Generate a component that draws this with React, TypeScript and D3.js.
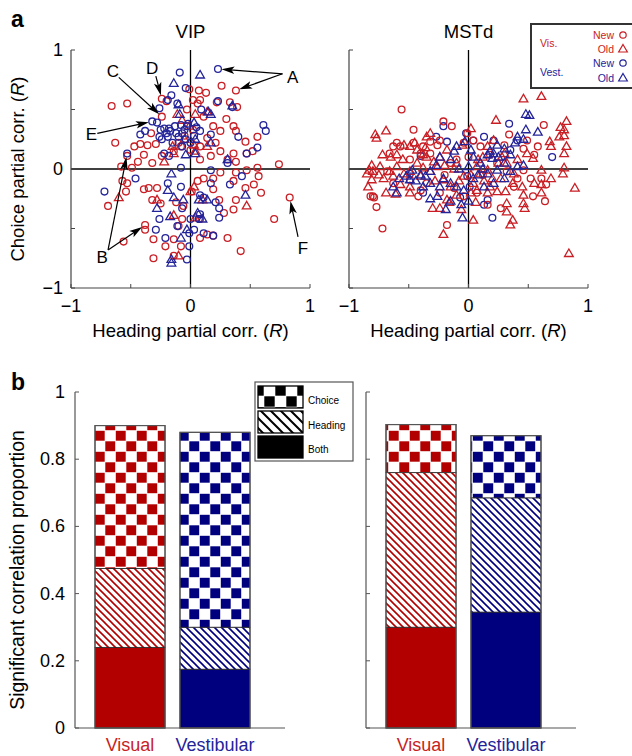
import React from 'react';
import * as d3 from 'd3';

const W = 632;
const H = 756;
const FONT = '"Liberation Sans", Arial, Helvetica, sans-serif';
const RED = '#c81e24';
const BLUE = '#24249a';
const BAR_RED = '#b20000';
const BAR_BLUE = '#00007f';

type Pt = [number, number];

// ---------- panel a : VIP (heading R, choice R) ----------
const vipVisNew: Pt[] = [
  [0.38, 0.66], [0.26, 0.70], [-0.66, 0.53], [-0.53, 0.55], [-0.24, 0.59], [-0.20, 0.57], [-0.01, 0.67],
  [0.07, 0.66], [0.13, 0.64], [0.02, 0.58], [0.08, 0.58], [0.06, 0.55], [0.22, 0.56], [0.33, 0.56],
  [0.39, 0.52], [-0.24, 0.44], [-0.63, 0.22], [-0.47, 0.19], [-0.42, 0.21], [-0.36, 0.20], [-0.29, 0.21],
  [-0.33, 0.30], [0.36, 0.36], [0.30, 0.42], [0.38, 0.32], [0.56, 0.27], [0.46, 0.23], [0.52, 0.15],
  [0.47, 0.13], [0.36, 0.13], [0.25, 0.15], [0.31, 0.08], [0.38, 0.06], [0.56, 0.01], [0.74, 0.04],
  [0.14, 0.26], [0.21, 0.22], [0.08, 0.19], [-0.39, 0.12], [-0.53, 0.11], [-0.44, 0.06], [-0.32, 0.05],
  [-0.24, 0.11], [-0.14, 0.15], [-0.08, 0.19], [-0.58, 0.02], [-0.49, 0.01], [-0.03, 0.50], [0.11, 0.44],
  [0.19, 0.36], [0.25, 0.32], [0.00, 0.16], [0.17, 0.11], [0.08, 0.08], [-0.05, 0.28], [0.02, 0.33],
  [-0.10, 0.22],
  [-0.57, -0.10], [-0.53, -0.12], [-0.54, -0.19], [-0.69, -0.31], [-0.56, -0.61], [-0.38, -0.47],
  [-0.38, -0.51], [-0.39, -0.17], [-0.35, -0.16], [-0.28, -0.16], [-0.32, -0.26], [-0.25, -0.29],
  [-0.31, -0.59], [-0.31, -0.75], [-0.21, -0.65], [-0.14, -0.73], [-0.14, -0.59], [-0.08, -0.65],
  [-0.10, -0.48], [-0.07, -0.42], [-0.06, -0.31], [-0.12, -0.28], [0.01, -0.19], [0.08, -0.42],
  [0.14, -0.55], [0.08, -0.58], [0.19, -0.56], [0.31, -0.58], [0.28, -0.37], [0.36, -0.34],
  [0.38, -0.26], [0.24, -0.26], [0.46, -0.16], [0.53, -0.13], [0.59, -0.20], [0.47, -0.01],
  [0.57, -0.06], [0.38, -0.03], [0.70, -0.42], [0.83, -0.24], [0.42, -0.69], [0.19, -0.08],
  [0.25, -0.03], [0.36, -0.10], [0.11, -0.08], [0.19, -0.17], [0.06, -0.10],
];
const vipVisOld: Pt[] = [
  [-0.11, 0.46], [-0.07, 0.41], [-0.01, 0.36], [0.04, 0.46], [0.14, 0.48], [-0.15, 0.19], [-0.22, 0.06],
  [-0.14, 0.13], [0.04, 0.15], [0.14, 0.19], [-0.60, -0.24], [0.00, -0.19], [0.03, -0.15], [0.04, -0.41],
  [-0.14, -0.39], [0.47, -0.31], [-0.10, -0.73], [-0.28, -0.26], [0.10, -0.26], [-0.05, 0.25], [0.03, 0.20],
];
const vipVestNew: Pt[] = [
  [0.23, 0.84], [-0.09, 0.81], [-0.04, 0.68], [-0.16, 0.62], [-0.19, 0.58], [-0.26, 0.51], [-0.28, 0.39],
  [-0.32, 0.40], [-0.11, 0.55], [0.09, 0.50], [0.23, 0.57], [0.35, 0.52], [0.61, 0.37], [0.63, 0.32],
  [0.56, 0.18], [0.47, 0.13], [0.40, 0.27], [0.17, 0.29], [0.08, 0.32], [-0.03, 0.36], [-0.08, 0.37],
  [-0.13, 0.36], [-0.18, 0.34], [-0.22, 0.34], [-0.25, 0.33], [-0.26, 0.27], [-0.24, 0.25], [-0.19, 0.27],
  [-0.17, 0.32], [-0.07, 0.30], [-0.04, 0.25], [0.00, 0.22], [-0.07, 0.19], [-0.42, 0.29], [-0.38, 0.32],
  [-0.53, 0.13], [-0.22, 0.13], [-0.18, 0.11], [-0.08, 0.01], [0.17, -0.01], [0.31, 0.05], [-0.46, -0.08],
  [-0.72, -0.19], [-0.19, -0.12], [-0.08, -0.15], [0.17, -0.12], [0.33, -0.13], [0.43, -0.06],
  [0.08, -0.22], [0.11, -0.24], [0.21, -0.28], [0.24, -0.33], [0.24, -0.41], [0.08, -0.38], [0.07, -0.42],
  [-0.26, -0.42], [-0.29, -0.51], [-0.21, -0.58], [-0.11, -0.48], [-0.01, -0.54], [-0.01, -0.65],
  [-0.03, -0.76], [0.00, -0.42], [0.19, -0.56], [0.11, -0.54], [0.03, -0.51], [-0.07, -0.33],
  [-0.12, 0.30], [-0.02, 0.38], [-0.15, 0.22], [0.03, 0.28], [-0.10, 0.27], [-0.05, 0.33], [-0.20, 0.30],
  [0.05, 0.35],
];
const vipVestOld: Pt[] = [
  [0.08, 0.79], [-0.14, 0.72], [-0.10, 0.54], [-0.09, 0.46], [0.03, 0.39], [0.15, 0.48], [0.17, 0.46],
  [0.35, 0.53], [0.17, 0.22], [0.04, 0.25], [-0.04, 0.12], [0.04, 0.13], [0.31, 0.08], [-0.16, -0.04],
  [-0.19, -0.18], [-0.14, -0.24], [-0.28, -0.33], [-0.17, -0.40], [-0.06, -0.26], [0.07, -0.26],
  [0.14, -0.26], [0.06, -0.37], [0.10, -0.42], [-0.08, -0.58], [-0.16, -0.79], [0.46, -0.22],
  [-0.03, -0.51], [-0.16, -0.76],
];

// ---------- panel a : MSTd ----------
const mstVisNew: Pt[] = [
  [-0.56, 0.50], [-0.46, 0.33], [-0.21, 0.40], [-0.14, 0.36], [-0.72, -0.50], [-0.18, -0.47], [-0.77, -0.32],
  [-0.80, -0.23], [-0.82, -0.23], [0.58, 0.19], [0.55, 0.12], [0.63, 0.37], [0.49, 0.24], [0.34, 0.29],
  [0.46, 0.17], [0.65, -0.13], [0.64, -0.27], [0.54, -0.23], [0.27, -0.33], [0.61, -0.08], [0.52, -0.08],
  [0.38, -0.15], [0.16, -0.30], [-0.60, 0.22], [-0.63, 0.19], [-0.57, 0.19], [-0.66, 0.13], [-0.32, 0.23],
  [-0.26, 0.20], [-0.38, 0.19], [-0.24, 0.24], [-0.46, 0.22], [-0.40, 0.13], [-0.49, 0.08], [-0.32, 0.13],
  [-0.15, 0.05], [-0.10, 0.08], [-0.04, 0.22], [-0.01, 0.30], [0.04, 0.24], [0.10, 0.19], [0.18, 0.12],
  [0.24, 0.05], [0.32, -0.02], [0.41, -0.08], [0.46, -0.01], [0.07, -0.20], [-0.04, -0.23], [-0.12, -0.16],
  [-0.24, -0.20], [-0.35, -0.12], [-0.40, -0.18], [-0.49, -0.09], [-0.63, -0.12], [-0.68, -0.02],
  [-0.42, -0.23], [-0.79, -0.24], [0.00, 0.10], [-0.20, -0.05], [0.12, -0.05], [0.30, 0.20],
];
const mstVisOld: Pt[] = [
  [0.46, 0.59], [0.61, 0.61], [0.23, 0.41], [0.82, 0.40], [0.77, 0.35], [0.80, 0.33], [0.76, 0.27],
  [0.80, 0.28], [0.68, 0.23], [0.69, 0.19], [0.82, 0.19], [0.80, 0.13], [0.80, 0.01], [0.79, -0.04],
  [0.89, -0.16], [0.84, -0.71], [0.69, -0.08], [0.61, -0.13], [0.61, -0.20], [0.55, -0.12], [0.45, -0.15],
  [0.46, -0.22], [0.46, -0.29], [0.47, -0.33], [0.32, -0.29], [0.32, -0.36], [0.37, -0.43], [0.35, -0.47],
  [0.24, -0.19], [0.04, -0.43], [-0.21, -0.55], [-0.06, -0.34], [-0.16, -0.28], [-0.30, -0.33],
  [-0.24, -0.33], [-0.49, -0.20], [-0.69, -0.20], [-0.61, -0.21], [-0.84, -0.15], [-0.85, -0.04],
  [-0.83, -0.01], [-0.80, -0.02], [-0.75, -0.05], [-0.81, 0.03], [-0.78, 0.29], [-0.77, 0.26],
  [-0.69, 0.32], [-0.72, 0.12], [-0.65, 0.10], [-0.60, 0.12], [-0.81, -0.09], [-0.71, -0.08],
  [-0.63, -0.06], [-0.57, -0.13], [-0.49, -0.15], [-0.54, 0.20], [-0.49, 0.19], [-0.35, 0.27],
  [-0.32, 0.30], [-0.43, 0.16], [-0.35, 0.10], [-0.29, 0.06], [-0.24, 0.10], [-0.18, 0.16], [-0.43, 0.05],
  [-0.38, 0.01], [-0.32, -0.02], [-0.26, 0.02], [-0.21, -0.09], [-0.15, -0.15], [-0.18, -0.26],
  [-0.04, -0.06], [0.02, -0.05], [0.04, -0.12], [0.07, -0.18], [0.02, -0.20], [0.02, 0.34], [0.16, 0.19],
  [0.21, 0.24], [0.30, 0.13], [0.32, 0.05], [0.41, 0.08], [0.38, -0.04], [0.37, -0.12], [0.31, -0.19],
  [0.16, -0.20], [0.18, -0.15], [0.49, 0.13], [0.54, 0.09], [0.16, -0.01], [0.10, -0.04], [0.07, 0.02],
  [-0.60, 0.02], [-0.66, -0.02], [-0.74, 0.02], [-0.49, -0.02], [-0.40, -0.06], [-0.54, -0.04],
  [0.61, -0.01], [-0.45, 0.22], [-0.38, 0.12], [0.12, 0.10], [0.25, 0.05], [-0.10, 0.05], [0.27, -0.08],
  [-0.05, 0.20], [-0.12, 0.00], [-0.08, -0.10], [0.08, 0.08], [-0.28, -0.10], [0.20, -0.08], [0.13, -0.10],
  [-0.20, 0.03], [0.28, 0.10], [0.06, -0.28], [-0.36, 0.18], [-0.55, 0.08], [-0.10, -0.22],
];
const mstVestNew: Pt[] = [
  [0.34, 0.38], [0.13, 0.27], [-0.02, 0.30], [-0.18, 0.23], [-0.21, 0.36], [-0.27, 0.27], [-0.40, 0.11],
  [0.70, 0.10], [0.20, -0.41], [0.13, -0.30], [0.16, -0.26], [-0.01, -0.06], [-0.38, -0.20], [-0.49, -0.04],
  [0.04, 0.24], [0.21, 0.24], [0.41, 0.24], [0.35, 0.16], [0.01, -0.15], [-0.07, -0.24],
];
const mstVestOld: Pt[] = [
  [0.48, 0.46], [0.51, 0.45], [0.41, 0.27], [0.48, 0.33], [0.46, 0.25], [0.58, 0.31], [0.39, 0.22],
  [0.30, 0.17], [0.24, 0.20], [0.21, 0.13], [0.18, 0.15], [0.20, 0.09], [0.16, 0.12], [-0.03, 0.23],
  [0.02, 0.16], [-0.10, 0.19], [-0.12, 0.15], [-0.15, 0.08], [-0.24, 0.10], [-0.27, 0.03], [-0.32, -0.02],
  [-0.36, -0.06], [-0.40, -0.05], [-0.47, -0.01], [-0.52, -0.06], [-0.49, -0.09], [-0.60, -0.20],
  [-0.63, -0.15], [-0.32, -0.25], [-0.26, -0.23], [-0.19, -0.34], [-0.15, -0.27], [-0.05, -0.41],
  [0.00, -0.27], [-0.04, -0.18], [-0.10, -0.15], [-0.15, -0.12], [-0.21, -0.08], [0.04, -0.08],
  [0.13, -0.15], [0.21, -0.12], [0.30, -0.08], [0.35, -0.02], [0.41, 0.02], [0.46, 0.03], [0.24, -0.01],
  [0.16, -0.04], [0.10, 0.05], [0.04, 0.10], [0.30, 0.05], [0.35, 0.12], [-0.32, -0.12], [-0.38, -0.15],
  [-0.24, -0.15], [-0.58, -0.08], [-0.44, -0.10], [0.08, -0.05], [-0.08, 0.00], [0.00, 0.02], [0.25, 0.10],
  [0.12, 0.00], [-0.06, -0.30],
];

// annotated example cells in VIP: label position, line start, targets
const annotations = [
  { label: 'A', at: [0.855, 0.775], from: [0.77, 0.80], to: [[0.23, 0.84], [0.38, 0.66]] },
  { label: 'D', at: [-0.32, 0.85], from: [-0.29, 0.78], to: [[-0.24, 0.59]] },
  { label: 'C', at: [-0.65, 0.82], from: [-0.60, 0.77], to: [[-0.24, 0.44]] },
  { label: 'E', at: [-0.83, 0.29], from: [-0.78, 0.30], to: [[-0.32, 0.40]] },
  { label: 'B', at: [-0.74, -0.74], from: [-0.69, -0.68], to: [[-0.53, 0.13], [-0.38, -0.47]] },
  { label: 'F', at: [0.94, -0.66], from: [0.90, -0.57], to: [[0.83, -0.24]] },
];

// ---------- panel b : significant correlation proportions ----------
const barGroups = ['Visual', 'Vestibular'];
const vipBoth = [0.24, 0.175];
const vipHeading = [0.235, 0.125];
const vipChoice = [0.425, 0.58];
const mstBoth = [0.30, 0.345];
const mstHeading = [0.46, 0.34];
const mstChoice = [0.143, 0.185];
const bTicks = [0, 0.2, 0.4, 0.6, 0.8, 1];

const fmt = (v: number) => (v < 0 ? '\u2212' + Math.abs(v) : String(v));
const triPath = d3.symbol().type(d3.symbolTriangle).size(33)() as string;

const yA = d3.scaleLinear().domain([-1, 1]).range([288, 50]);
const vipX = d3.scaleLinear().domain([-1, 1]).range([71, 310]);
const mstX = d3.scaleLinear().domain([-1, 1]).range([349, 588]);
const yB = d3.scaleLinear().domain([0, 1]).range([728, 392]);

function Markers({ data, shape, color, x }: { data: Pt[]; shape: 'c' | 't'; color: string; x: d3.ScaleLinear<number, number> }) {
  return (
    <g fill="none" stroke={color} strokeWidth={1.3}>
      {data.map((d, i) =>
        shape === 'c' ? (
          <circle key={i} cx={x(d[0])} cy={yA(d[1])} r={3.4} />
        ) : (
          <path key={i} d={triPath} transform={`translate(${x(d[0])},${yA(d[1]) + 0.5})`} />
        )
      )}
    </g>
  );
}

function ScatterAxes({ x, title, yLabels }: { x: d3.ScaleLinear<number, number>; title: string; yLabels: boolean }) {
  const ticks = [-1, -0.5, 0, 0.5, 1];
  const [x0, x1] = x.range();
  return (
    <g fontFamily={FONT}>
      <line x1={x0} x2={x1} y1={yA(0)} y2={yA(0)} stroke="#000" strokeWidth={1.3} />
      <line x1={x(0)} x2={x(0)} y1={yA(-1)} y2={yA(1)} stroke="#000" strokeWidth={1.3} />
      <line x1={x0} x2={x0} y1={yA(-1)} y2={yA(1)} stroke="#444" strokeWidth={1.2} />
      <line x1={x0} x2={x1} y1={yA(-1)} y2={yA(-1)} stroke="#444" strokeWidth={1.2} />
      {ticks.map(t => (
        <g key={t} stroke="#444" strokeWidth={1}>
          <line x1={x0} x2={x0 + 4} y1={yA(t)} y2={yA(t)} />
          <line x1={x(t)} x2={x(t)} y1={yA(-1)} y2={yA(-1) - 4} />
        </g>
      ))}
      {[-1, 0, 1].map(t => (
        <text key={'x' + t} x={x(t)} y={yA(-1) + 24} fontSize={18} textAnchor="middle">{fmt(t)}</text>
      ))}
      {yLabels && [-1, 0, 1].map(t => (
        <text key={'y' + t} x={x0 - 8} y={yA(t) + 6} fontSize={18} textAnchor="end">{fmt(t)}</text>
      ))}
      <text x={x(0)} y={38} fontSize={18.5} textAnchor="middle">{title}</text>
      <text x={x(0)} y={337} fontSize={18.5} textAnchor="middle">
        Heading partial corr. (<tspan fontStyle="italic">R</tspan>)
      </text>
    </g>
  );
}

function Arrow({ from, to, x }: { from: number[]; to: number[]; x: d3.ScaleLinear<number, number> }) {
  const sx = x(from[0]), sy = yA(from[1]);
  const tx0 = x(to[0]), ty0 = yA(to[1]);
  const dx = tx0 - sx, dy = ty0 - sy;
  const len = Math.hypot(dx, dy);
  const ux = dx / len, uy = dy / len;
  const tx = tx0 - ux * 3.5, ty = ty0 - uy * 3.5;
  const hl = 13, hw = 3.8;
  const bx = tx - ux * hl, by = ty - uy * hl;
  const head = `M${tx},${ty}L${bx - uy * hw},${by + ux * hw}L${bx + ux * 3},${by + uy * 3}L${bx + uy * hw},${by - ux * hw}Z`;
  return (
    <g>
      <line x1={sx} y1={sy} x2={bx + ux * 4} y2={by + uy * 4} stroke="#000" strokeWidth={1.2} />
      <path d={head} fill="#000" />
    </g>
  );
}

function BarPanel({ x0, both, heading, choice, labels }: { x0: number; both: number[]; heading: number[]; choice: number[]; labels: boolean }) {
  const band = d3.scaleBand().domain(barGroups).range([x0 + 20, x0 + 175]).paddingInner(0.176);
  const rows = barGroups.map((g, i) => ({ group: g, both: both[i], heading: heading[i], choice: choice[i] }));
  const series = d3.stack<any>().keys(['both', 'heading', 'choice'])(rows);
  const fillFor = (key: string, gi: number) => {
    const c = gi === 0 ? 'Red' : 'Blue';
    if (key === 'both') return gi === 0 ? BAR_RED : BAR_BLUE;
    if (key === 'heading') return `url(#hatch${c})`;
    return `url(#chk${c})`;
  };
  return (
    <g fontFamily={FONT}>
      {series.map(s =>
        s.map((d, gi) => (
          <rect key={s.key + gi} x={band(barGroups[gi])} width={band.bandwidth()} y={yB(d[1])} height={yB(d[0]) - yB(d[1])}
            fill={fillFor(s.key, gi)} stroke="#222" strokeWidth={0.8} />
        ))
      )}
      {rows.map((r, gi) => (
        <rect key={'o' + gi} x={band(r.group)} width={band.bandwidth()} y={yB(r.both + r.heading + r.choice)}
          height={yB(0) - yB(r.both + r.heading + r.choice)} fill="none" stroke="#555" strokeWidth={1.2} />
      ))}
      <line x1={x0} x2={x0} y1={yB(0)} y2={yB(1)} stroke="#555" strokeWidth={1.2} />
      <line x1={x0} x2={x0 + 210} y1={yB(0)} y2={yB(0)} stroke="#555" strokeWidth={1.2} />
      {bTicks.map(t => (
        <line key={t} x1={x0} x2={x0 + 4} y1={yB(t)} y2={yB(t)} stroke="#555" strokeWidth={1} />
      ))}
      {labels && bTicks.map(t => (
        <text key={'l' + t} x={x0 - 10} y={yB(t) + 6} fontSize={18} textAnchor="end">{String(t)}</text>
      ))}
      {barGroups.map((g, gi) => (
        <text key={g} x={(band(g) as number) + band.bandwidth() / 2} y={751} fontSize={18} textAnchor="middle"
          fill={gi === 0 ? RED : BLUE}>{g}</text>
      ))}
    </g>
  );
}

export default function App() {
  return (
    <svg width={W} height={H} style={{ position: 'absolute', left: 0, top: 0, background: '#fff' }} fontFamily={FONT}>
      <defs>
        {[['Red', BAR_RED], ['Blue', BAR_BLUE], ['Black', '#000']].map(([n, c]) => {
          const s = n === 'Black' ? 11 : 10.5;
          const hs = n === 'Black' ? 10 : 7;
          return (
            <React.Fragment key={n}>
              <pattern id={'chk' + n} patternUnits="userSpaceOnUse" width={2 * s} height={2 * s}>
                <rect width={2 * s} height={2 * s} fill="#fff" />
                <rect x={0.3} y={0.3} width={s - 0.6} height={s - 0.6} fill={c} />
                <rect x={s + 0.3} y={s + 0.3} width={s - 0.6} height={s - 0.6} fill={c} />
              </pattern>
              <pattern id={'hatch' + n} patternUnits="userSpaceOnUse" width={hs} height={hs}>
                <rect width={hs} height={hs} fill="#fff" />
                <path d={`M-1,-1L${hs + 1},${hs + 1}M-1,${hs - 1}L1,${hs + 1}M${hs - 1},-1L${hs + 1},1`}
                  stroke={c} strokeWidth={n === 'Black' ? 2 : 1.6} />
              </pattern>
            </React.Fragment>
          );
        })}
      </defs>

      {/* panel a */}
      <text x={11} y={27} fontSize={23} fontWeight="bold">a</text>
      <text transform="translate(24,169) rotate(-90)" fontSize={18.5} textAnchor="middle">
        Choice partial corr. (<tspan fontStyle="italic">R</tspan>)
      </text>
      <ScatterAxes x={vipX} title="VIP" yLabels={true} />
      <ScatterAxes x={mstX} title="MSTd" yLabels={false} />

      <Markers data={vipVisNew} shape="c" color={RED} x={vipX} />
      <Markers data={vipVisOld} shape="t" color={RED} x={vipX} />
      <Markers data={vipVestNew} shape="c" color={BLUE} x={vipX} />
      <Markers data={vipVestOld} shape="t" color={BLUE} x={vipX} />

      <Markers data={mstVestNew} shape="c" color={BLUE} x={mstX} />
      <Markers data={mstVisNew} shape="c" color={RED} x={mstX} />
      <Markers data={mstVisOld} shape="t" color={RED} x={mstX} />
      <Markers data={mstVestOld} shape="t" color={BLUE} x={mstX} />

      {annotations.map(a => (
        <g key={a.label}>
          {a.to.map((t, i) => <Arrow key={i} from={a.from} to={t} x={vipX} />)}
          <text x={vipX(a.at[0])} y={yA(a.at[1]) + 6} fontSize={17} textAnchor="middle">{a.label}</text>
        </g>
      ))}

      {/* legend a */}
      <g fontSize={10.5}>
        <rect x={531} y={24} width={120} height={64} fill="#fff" stroke="#333" strokeWidth={2} />
        <text x={540} y={47} fill={RED}>Vis.</text>
        <text x={614} y={39} fill={RED} textAnchor="end">New</text>
        <text x={614} y={53} fill={RED} textAnchor="end">Old</text>
        <circle cx={623} cy={35} r={3.2} fill="none" stroke={RED} strokeWidth={1.2} />
        <path d={triPath} transform="translate(623,49.5)" fill="none" stroke={RED} strokeWidth={1.2} />
        <text x={540} y={76} fill={BLUE}>Vest.</text>
        <text x={614} y={67} fill={BLUE} textAnchor="end">New</text>
        <text x={614} y={82} fill={BLUE} textAnchor="end">Old</text>
        <circle cx={623} cy={63} r={3.2} fill="none" stroke={BLUE} strokeWidth={1.2} />
        <path d={triPath} transform="translate(623,78.5)" fill="none" stroke={BLUE} strokeWidth={1.2} />
      </g>

      {/* panel b */}
      <text x={11} y={390} fontSize={23} fontWeight="bold">b</text>
      <text transform="translate(24,570) rotate(-90)" fontSize={19.5} textAnchor="middle">
        Significant correlation proportion
      </text>
      <BarPanel x0={75} both={vipBoth} heading={vipHeading} choice={vipChoice} labels={true} />
      <BarPanel x0={366} both={mstBoth} heading={mstHeading} choice={mstChoice} labels={false} />

      {/* legend b */}
      <g fontSize={10}>
        <rect x={255} y={382} width={98} height={79} fill="#fff" stroke="#555" strokeWidth={1.2} />
        <rect x={258} y={386} width={45} height={22} fill="url(#chkBlack)" stroke="#000" strokeWidth={1.3} />
        <rect x={258} y={411} width={45} height={22} fill="url(#hatchBlack)" stroke="#000" strokeWidth={1.3} />
        <rect x={258} y={436} width={45} height={22} fill="#000" stroke="#000" strokeWidth={1.3} />
        <text x={308} y={404}>Choice</text>
        <text x={308} y={429}>Heading</text>
        <text x={308} y={453}>Both</text>
      </g>
    </svg>
  );
}
